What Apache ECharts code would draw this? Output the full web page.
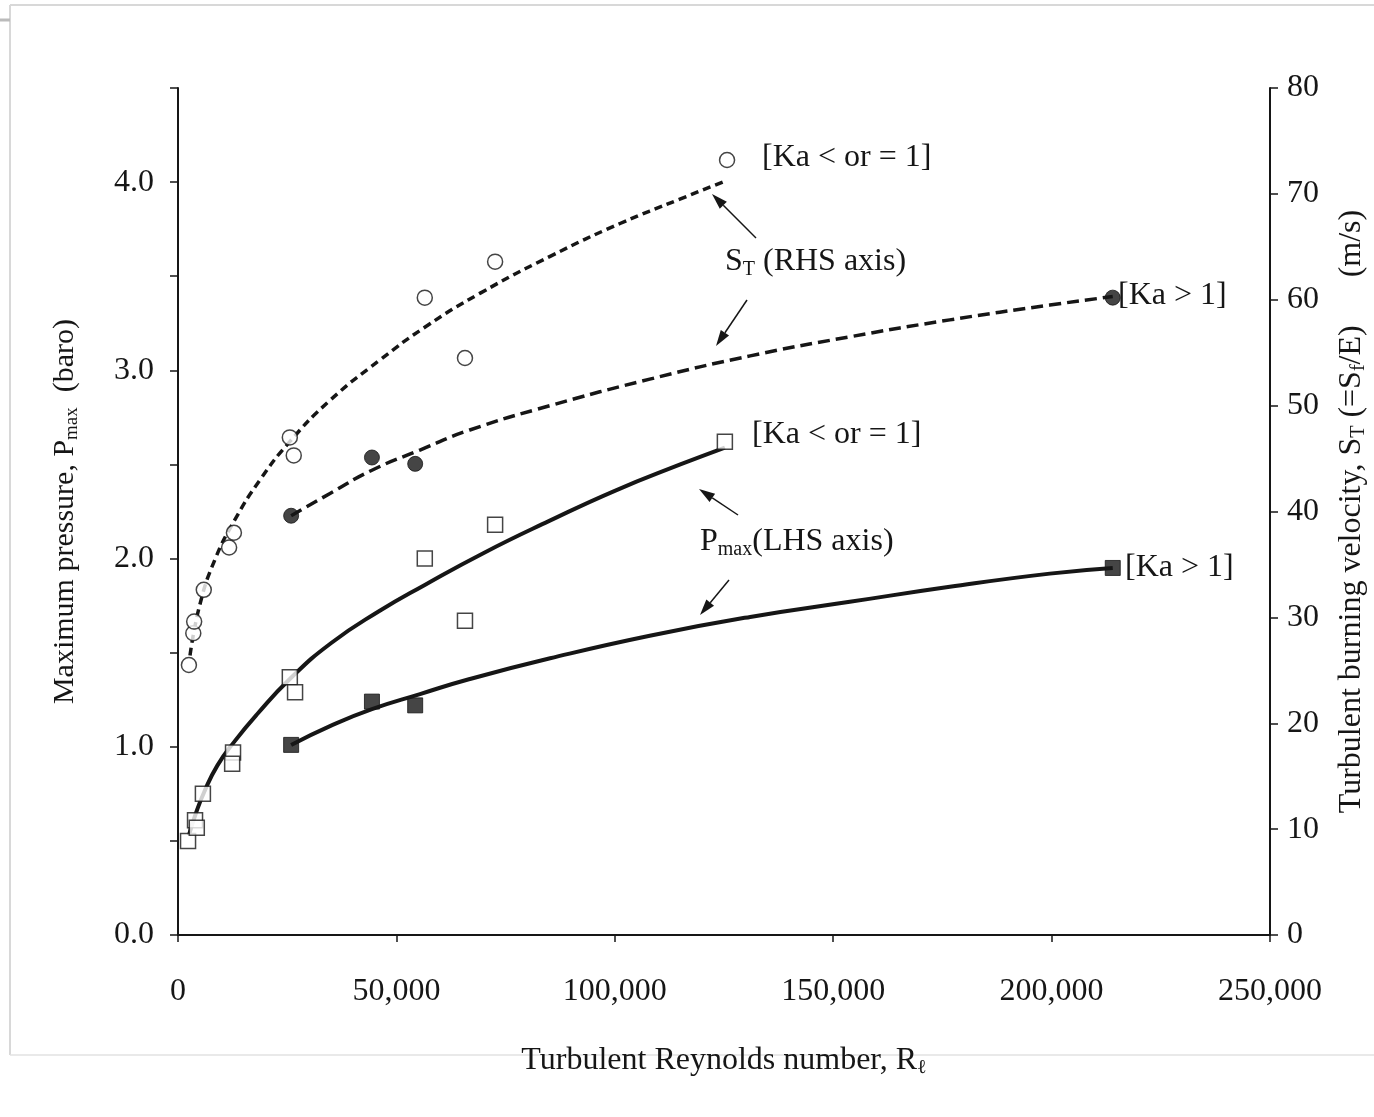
<!DOCTYPE html>
<html>
<head>
<meta charset="utf-8">
<title>Pmax and ST vs turbulent Reynolds number</title>
<script src="https://cdn.jsdelivr.net/npm/echarts@6/dist/echarts.min.js"></script>
<style>
	html, body { margin: 0; padding: 0; background: #fff; }
	#chart { width: 1374px; height: 1117px; }
</style>
</head>
<body>
<div id="chart"></div>
<script>
	// tick labels
	var xTicks = [0, 50000, 100000, 150000, 200000, 250000];
	var leftTicks = [0.0, 1.0, 2.0, 3.0, 4.0];
	var rightTicks = [0, 10, 20, 30, 40, 50, 60, 70, 80];

	// S_T (right axis), Ka <= 1, open circles
	var stLowPts = [[2500, 25.5], [3500, 28.5], [3700, 29.6], [5900, 32.6], [11700, 36.6], [12800, 38.0],
		[25600, 47.0], [26500, 45.3], [56500, 60.2], [65700, 54.5], [72600, 63.6], [125700, 73.2]];
	var stLowFit = [[2750, 26.4], [5000, 31.2], [8500, 35.5], [13000, 39.2], [18800, 43.0], [25600, 46.6],
		[34800, 50.5], [46200, 54.3], [56500, 57.4], [69100, 60.6], [85200, 64.1], [101200, 67.2],
		[114900, 69.5], [125200, 71.2]];

	// S_T (right axis), Ka > 1, filled circles
	var stHighPts = [[25900, 39.6], [44400, 45.1], [54300, 44.5], [214000, 60.2]];
	var stHighFit = [[25900, 39.6], [34800, 41.7], [44400, 43.9], [55400, 45.8], [66800, 47.7], [85200, 50.0],
		[108000, 52.5], [131000, 54.7], [153800, 56.5], [176700, 58.1], [199600, 59.5], [214000, 60.3]];

	// Pmax (left axis), Ka <= 1, open squares
	var pLowPts = [[2300, 0.50], [3900, 0.61], [4300, 0.57], [5700, 0.75], [12600, 0.97], [12400, 0.91],
		[25600, 1.37], [26800, 1.29], [56500, 2.00], [65700, 1.67], [72600, 2.18], [125200, 2.62]];
	var pLowFit = [[2500, 0.53], [4000, 0.64], [6000, 0.76], [9000, 0.90], [13000, 1.03], [18000, 1.17],
		[25600, 1.36], [35000, 1.55], [46000, 1.72], [56500, 1.86], [70000, 2.03], [85000, 2.20],
		[100000, 2.36], [115000, 2.50], [125200, 2.59]];

	// Pmax (left axis), Ka > 1, filled squares
	var pHighPts = [[25900, 1.01], [44400, 1.24], [54300, 1.22], [214000, 1.95]];
	var pHighFit = [[25900, 1.01], [34800, 1.11], [44400, 1.20], [55400, 1.28], [66800, 1.36], [85200, 1.47],
		[108000, 1.59], [131000, 1.69], [153800, 1.77], [176700, 1.85], [199600, 1.92], [214000, 1.95]];

	var FONT = '"Liberation Serif", "DejaVu Serif", serif';
	var INK = '#161616';
	var SUB = { fontSize: 20, fontFamily: FONT, verticalAlign: 'bottom', padding: [15, 0, 0, 0] };

	function arrow(x1, y1, x2, y2) {
		// tail (x1,y1) -> head (x2,y2)
		var dx = x2 - x1, dy = y2 - y1;
		var len = Math.sqrt(dx * dx + dy * dy);
		var ux = dx / len, uy = dy / len;
		var bx = x2 - ux * 16, by = y2 - uy * 16;
		return [
			{ type: 'line', shape: { x1: x1, y1: y1, x2: bx, y2: by }, style: { stroke: INK, lineWidth: 1.5 }, z: 100 },
			{ type: 'polygon', shape: { points: [[x2, y2], [bx - uy * 5, by + ux * 5], [bx + uy * 5, by - ux * 5]] },
				style: { fill: INK }, z: 100 }
		];
	}

	function label(x, y, text) {
		return {
			type: 'text', left: x, top: y, z: 100,
			style: {
				text: text, fill: INK, font: '32px ' + FONT,
				rich: { sub: Object.assign({ fill: INK }, SUB) }
			}
		};
	}

	var graphics = [
		// faint page frame
		{ type: 'line', shape: { x1: 10, y1: 5, x2: 1374, y2: 5 }, style: { stroke: '#d8d8d8', lineWidth: 2 } },
		{ type: 'line', shape: { x1: 10, y1: 5, x2: 10, y2: 1055 }, style: { stroke: '#d8d8d8', lineWidth: 2 } },
		{ type: 'line', shape: { x1: 10, y1: 1055, x2: 1374, y2: 1055 }, style: { stroke: '#e2e2e2', lineWidth: 1.5 } },
		{ type: 'line', shape: { x1: 0, y1: 20, x2: 10, y2: 20 }, style: { stroke: '#bbbbbb', lineWidth: 3 } },
		label(762, 142, '[Ka < or = 1]'),
		label(725, 246, 'S{sub|T} (RHS axis)'),
		label(1118, 280, '[Ka > 1]'),
		label(752, 419, '[Ka < or = 1]'),
		label(700, 526, 'P{sub|max}(LHS axis)'),
		label(1125, 552, '[Ka > 1]')
	].concat(arrow(756, 238, 712, 194), arrow(747, 300, 716, 346),
		arrow(738, 515, 699, 489), arrow(729, 580, 700, 615));

	var chart = echarts.init(document.getElementById('chart'));

	var option = {
		backgroundColor: '#fff',
		animation: false,
		textStyle: { fontFamily: FONT },
		grid: { left: 178, right: 104, top: 88, bottom: 182, outerBoundsMode: 'none', containLabel: false },
		xAxis: {
			type: 'value', min: 0, max: 250000, interval: 50000,
			splitLine: { show: false },
			axisLine: { onZero: false, lineStyle: { color: INK, width: 2 } },
			axisTick: { show: true, inside: false, length: 7, lineStyle: { color: INK, width: 1.5 } },
			axisLabel: {
				fontSize: 32, color: INK, fontFamily: FONT, margin: 41,
				formatter: function (v) { return xTicks.indexOf(v) >= 0 ? v.toLocaleString('en-US') : ''; }
			},
			name: 'Turbulent Reynolds number, R{sub|ℓ}',
			nameLocation: 'middle', nameGap: 108,
			nameTextStyle: {
				fontSize: 32, color: INK, fontFamily: FONT,
				rich: { sub: Object.assign({ color: INK }, SUB) }
			}
		},
		yAxis: [
			{
				type: 'value', min: 0, max: 4.5, interval: 0.5, position: 'left',
				splitLine: { show: false },
				axisLine: { show: true, lineStyle: { color: INK, width: 2 } },
				axisTick: { show: true, inside: false, length: 8, lineStyle: { color: INK, width: 1.5 } },
				axisLabel: {
					fontSize: 32, color: INK, fontFamily: FONT, margin: 24,
					formatter: function (v) {
						return leftTicks.indexOf(Math.round(v * 10) / 10) >= 0 ? v.toFixed(1) : '';
					}
				},
				name: 'Maximum pressure, P{sub|max}  (baro)',
				nameLocation: 'middle', nameGap: 96, nameRotate: 90,
				nameTextStyle: {
					fontSize: 30, color: INK, fontFamily: FONT,
					rich: { sub: Object.assign({ color: INK }, SUB, { fontSize: 19 }) }
				}
			},
			{
				type: 'value', min: 0, max: 80, interval: 10, position: 'right',
				splitLine: { show: false },
				axisLine: { show: true, lineStyle: { color: INK, width: 2 } },
				axisTick: { show: true, inside: false, length: 8, lineStyle: { color: INK, width: 1.5 } },
				axisLabel: {
					fontSize: 32, color: INK, fontFamily: FONT, margin: 17,
					formatter: function (v) { return rightTicks.indexOf(v) >= 0 ? String(v) : ''; }
				},
				name: 'Turbulent burning velocity, S{sub|T} (=S{sub|f}/E)      (m/s)',
				nameLocation: 'middle', nameGap: 64, nameRotate: 90,
				nameTextStyle: {
					fontSize: 32, color: INK, fontFamily: FONT,
					rich: { sub: Object.assign({ color: INK }, SUB) }
				}
			}
		],
		series: [
			{
				name: 'ST fit Ka<=1', type: 'line', yAxisIndex: 1, data: stLowFit, smooth: true,
				showSymbol: false, lineStyle: { color: INK, width: 3.5, type: [8, 5] }, z: 2
			},
			{
				name: 'ST fit Ka>1', type: 'line', yAxisIndex: 1, data: stHighFit, smooth: true,
				showSymbol: false, lineStyle: { color: INK, width: 3.5, type: [12, 6] }, z: 2
			},
			{
				name: 'Pmax fit Ka<=1', type: 'line', yAxisIndex: 0, data: pLowFit, smooth: true,
				showSymbol: false, lineStyle: { color: INK, width: 4 }, z: 2
			},
			{
				name: 'Pmax fit Ka>1', type: 'line', yAxisIndex: 0, data: pHighFit, smooth: true,
				showSymbol: false, lineStyle: { color: INK, width: 4 }, z: 2
			},
			{
				name: 'ST Ka<=1', type: 'scatter', yAxisIndex: 1, data: stLowPts, symbol: 'circle', symbolSize: 15,
				itemStyle: { color: '#fff', borderColor: INK, borderWidth: 1.5 }, z: 3
			},
			{
				name: 'ST Ka>1', type: 'scatter', yAxisIndex: 1, data: stHighPts, symbol: 'circle', symbolSize: 15,
				itemStyle: { color: INK, borderColor: INK, borderWidth: 1 }, z: 3
			},
			{
				name: 'Pmax Ka<=1', type: 'scatter', yAxisIndex: 0, data: pLowPts, symbol: 'rect', symbolSize: 15,
				itemStyle: { color: '#fff', borderColor: INK, borderWidth: 1.5 }, z: 3
			},
			{
				name: 'Pmax Ka>1', type: 'scatter', yAxisIndex: 0, data: pHighPts, symbol: 'rect', symbolSize: 15,
				itemStyle: { color: INK, borderColor: INK, borderWidth: 1 }, z: 3
			}
		],
		graphic: graphics
	};

	chart.setOption(option);
</script>
</body>
</html>
